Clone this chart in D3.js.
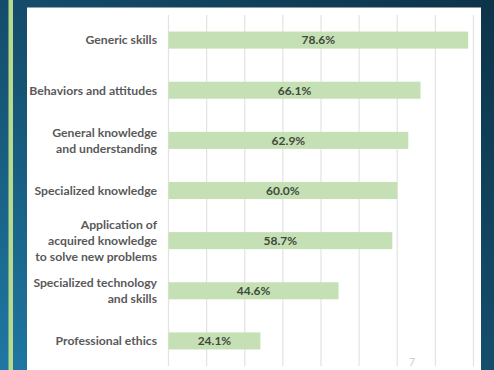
<!DOCTYPE html>
<html>
<head>
<meta charset="utf-8">
<script src="https://cdn.jsdelivr.net/npm/d3@7"></script>
<style>
  html, body { margin: 0; padding: 0; background: #124562; }
  svg { display: block; }
</style>
</head>
<body>
<svg id="chart" width="494" height="370"></svg>
<script>
// Competence categories (label lines) and share of respondents (%)
const categories = [
  ["Generic skills"],
  ["Behaviors and attitudes"],
  ["General knowledge", "and understanding"],
  ["Specialized knowledge"],
  ["Application of", "acquired knowledge", "to solve new problems"],
  ["Specialized technology", "and skills"],
  ["Professional ethics"]
];
const values = [78.6, 66.1, 62.9, 60.0, 58.7, 44.6, 24.1];
const xTicks = [0, 10, 20, 30, 40, 50, 60, 70, 80];
const slideNumber = "7";

const W = 494, H = 370;
const svg = d3.select("#chart");
const defs = svg.append("defs");

// Slide background: lighter teal bottom-left fading to deep navy top-right
const bg = defs.append("linearGradient").attr("id", "bg")
  .attr("x1", "0").attr("y1", "1").attr("x2", "1").attr("y2", "0");
bg.append("stop").attr("offset", "0").attr("stop-color", "#1f78a3");
bg.append("stop").attr("offset", "0.45").attr("stop-color", "#15506f");
bg.append("stop").attr("offset", "1").attr("stop-color", "#0d3349");
svg.append("rect").attr("width", W).attr("height", H).attr("fill", "url(#bg)");

// Accent stripe on the left edge
svg.append("rect").attr("x", 8.5).attr("y", 0).attr("width", 4.5).attr("height", H)
  .attr("fill", "#b9da8c");

// White chart panel
svg.append("rect").attr("x", 27).attr("y", 7.5).attr("width", 454).attr("height", H)
  .attr("fill", "#ffffff");

const plot = { left: 168.5, right: 473.5, top: 15, bottom: 366 };

const x = d3.scaleLinear().domain([0, 80]).range([plot.left, plot.right]);
const y = d3.scaleBand().domain(d3.range(categories.length))
  .range([plot.top, plot.bottom]).paddingInner(0.66).paddingOuter(0.33);

// Vertical gridlines
svg.append("g").selectAll("line").data(xTicks).join("line")
  .attr("x1", d => x(d)).attr("x2", d => x(d))
  .attr("y1", plot.top).attr("y2", plot.bottom)
  .attr("stroke", "#e3e3e3").attr("stroke-width", 1.2);

// Bars
svg.append("g").selectAll("rect").data(values).join("rect")
  .attr("x", x(0))
  .attr("y", (d, i) => y(i))
  .attr("width", d => x(d) - x(0))
  .attr("height", y.bandwidth())
  .attr("fill", "#c5e0b4");

// Value labels centred in bars
svg.append("g").selectAll("text").data(values).join("text")
  .attr("x", d => (x(0) + x(d)) / 2)
  .attr("y", (d, i) => y(i) + y.bandwidth() / 2)
  .attr("dy", "0.36em")
  .attr("text-anchor", "middle")
  .attr("font-family", "Lato, 'Open Sans', sans-serif")
  .attr("font-weight", 700)
  .attr("font-size", 12)
  .attr("fill", "#3f4a3c")
  .text(d => d.toFixed(1) + "%");

// Category labels, right-aligned, multi-line centred on the bar
const lineH = 16;
const lab = svg.append("g").selectAll("text").data(categories).join("text")
  .attr("x", 157)
  .attr("y", (d, i) => y(i) + y.bandwidth() / 2 - (d.length - 1) * lineH / 2)
  .attr("text-anchor", "end")
  .attr("font-family", "Lato, 'Open Sans', sans-serif")
  .attr("font-weight", 700)
  .attr("font-size", 12.2)
  .attr("fill", "#595959");
lab.selectAll("tspan").data(d => d).join("tspan")
  .attr("x", 157)
  .attr("dy", (d, j) => j === 0 ? "0.36em" : lineH)
  .text(d => d);

// Slide number
svg.append("text").attr("x", 412).attr("y", 366)
  .attr("text-anchor", "middle")
  .attr("font-family", "Lato, sans-serif")
  .attr("font-size", 11)
  .attr("fill", "#d0d0d0")
  .text(slideNumber);
</script>
</body>
</html>
